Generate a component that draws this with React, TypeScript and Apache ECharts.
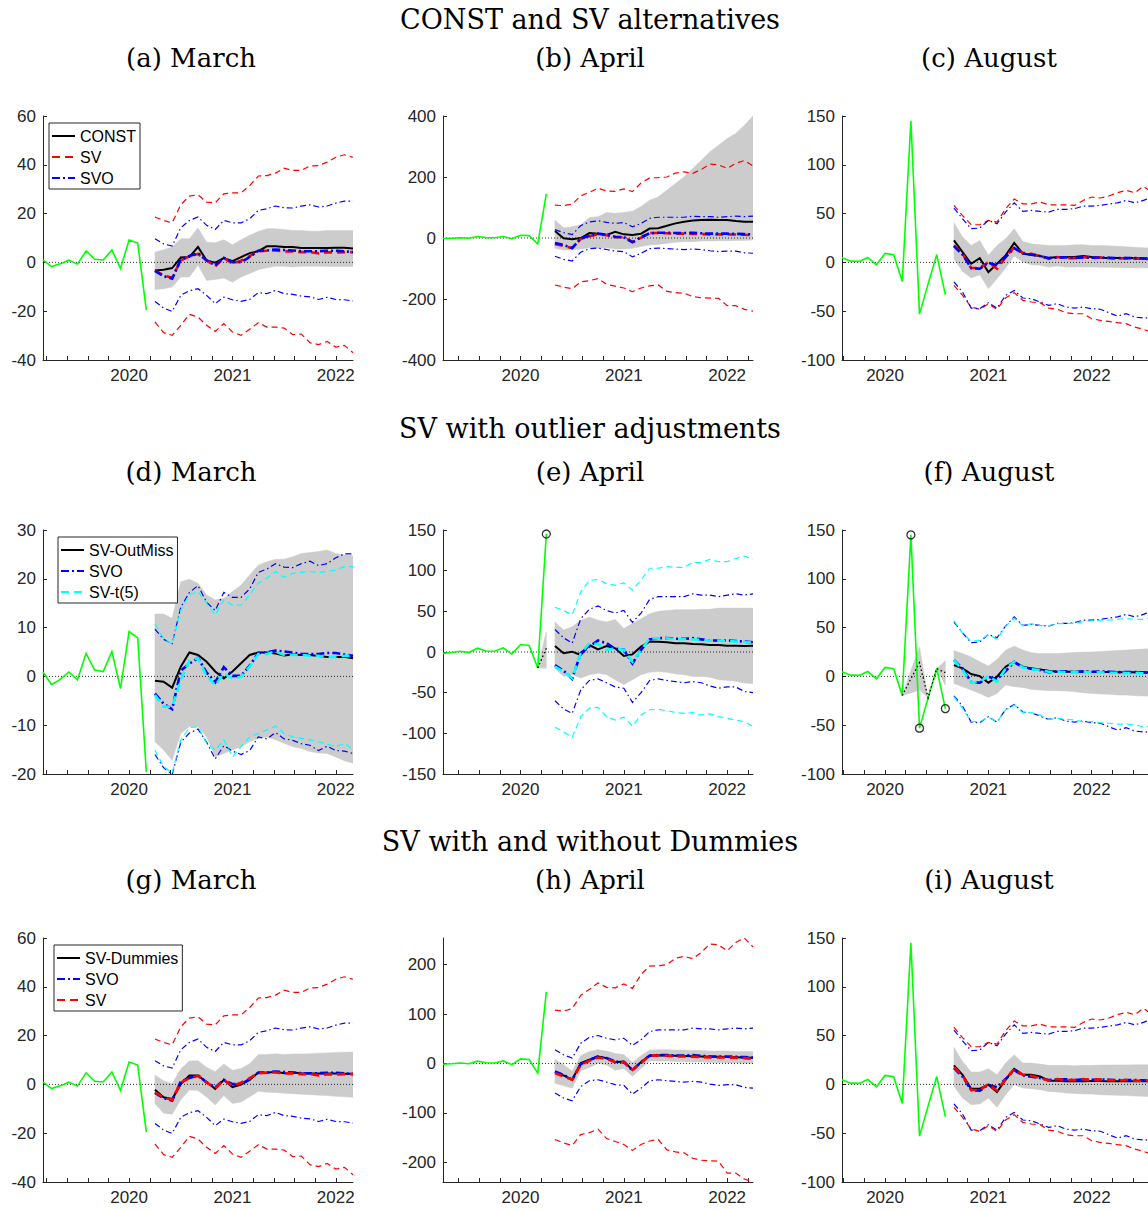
import React, { useEffect, useRef } from "react";
import * as echarts from "echarts";

// ---------------- DATA ----------------
// Observed monthly growth (green), March 2019 .. August 2020
const observed = [0.9, -1.7, -0.6, 0.9, -0.7, 4.7, 1.3, 1.0, 5.1, -2.5, 9.2, 7.9, -19.6, 145, -53, -22, 8, -33];

// tick labels / tick positions
const xLabelYears = [2020, 2021, 2022];
const xMinorTicks = [2019.2, 2019.4, 2019.6, 2019.8, 2020, 2020.2, 2020.4, 2020.6, 2020.8, 2021, 2021.2, 2021.4, 2021.6, 2021.8, 2022, 2022.2, 2022.4, 2022.6];
const yTicksMar = [-40, -20, 0, 20, 40, 60];
const yTicksMarOut = [-20, -10, 0, 10, 20, 30];
const yTicksAprConst = [-400, -200, 0, 200, 400];
const yTicksAprOut = [-150, -100, -50, 0, 50, 100, 150];
const yTicksAprDum = [-200, -100, 0, 100, 200];
const yTicksAug = [-100, -50, 0, 50, 100, 150];

// titles
const sectionTitles = ["CONST and SV alternatives", "SV with outlier adjustments", "SV with and without Dummies"];
const panelTitles = ["(a) March", "(b) April", "(c) August", "(d) March", "(e) April", "(f) August", "(g) March", "(h) April", "(i) August"];

// ---- March vintage forecasts (Apr 2020 .. Mar 2022) ----
const constMarMed = [-3.3, -3.0, -2.3, 2.0, 2.2, 6.3, 0.8, -0.1, 1.8, 0.5, 2.2, 3.8, 4.6, 6.6, 6.6, 6.3, 6.3, 5.9, 5.9, 5.9, 5.9, 6.0, 6.0, 5.7];
const constMarLo = [-11.1, -10.8, -10.1, -6.0, -6.0, -1.2, -7.4, -7.0, -6.4, -8.1, -6.0, -4.6, -3.0, -2.2, -1.6, -1.6, -1.9, -1.6, -1.6, -1.6, -1.7, -1.7, -1.7, -1.7];
const constMarHi = [4.2, 5.2, 6.3, 9.7, 9.7, 14.1, 8.3, 8.1, 9.3, 7.2, 9.3, 11.1, 12.7, 13.8, 13.8, 13.5, 13.1, 13.1, 12.8, 12.8, 13.1, 13.1, 13.1, 13.1];
const svMarMed = [-3.3, -5.3, -6.3, 0.8, 2.5, 3.5, 0.8, -1.6, 1.8, -0.5, 0.7, 2.6, 4.6, 4.8, 4.9, 4.5, 4.5, 4.2, 4.2, 3.7, 4.1, 4.1, 4.2, 4.2];
const svMarLo = [-24.4, -28.8, -29.9, -25.8, -21.3, -22.4, -25.8, -28.3, -25.1, -28.5, -29.9, -27.4, -24.7, -26.5, -26.5, -26.9, -29.6, -29.4, -32.9, -33.7, -32.4, -34.7, -34.0, -37.0];
const svMarHi = [18.6, 17.2, 16.2, 23.6, 27.2, 27.7, 24.7, 24.4, 28.1, 28.5, 28.5, 31.5, 35.4, 35.6, 36.6, 38.6, 37.7, 37.7, 39.5, 39.7, 41.1, 43.1, 44.1, 43.1];
const svoMarMed = [-3.5, -5.6, -6.7, 1.2, 2.6, 3.8, 0.8, -1.2, 1.9, 0.1, 0.1, 2.2, 4.8, 4.9, 5.3, 5.1, 4.9, 4.6, 4.6, 4.6, 4.8, 4.8, 4.5, 4.2];
const svoMarLo = [-16.0, -18.7, -20.1, -13.5, -11.6, -10.8, -13.5, -16.9, -14.2, -15.3, -16.0, -15.2, -12.4, -12.8, -11.5, -12.8, -13.1, -13.8, -14.1, -15.2, -14.3, -15.2, -15.3, -15.8];
const svoMarHi = [9.7, 7.6, 6.7, 14.2, 17.2, 18.6, 15.2, 13.5, 17.2, 16.2, 16.2, 17.9, 21.3, 22.0, 23.1, 22.4, 22.3, 23.1, 23.6, 22.7, 23.1, 24.3, 25.1, 25.1];
const outMarMed = [-0.9, -1.1, -2.3, 2.0, 4.9, 4.4, 3.0, 1.0, -0.4, 1.0, 2.7, 4.4, 4.9, 4.9, 4.7, 4.3, 4.5, 4.4, 4.4, 4.2, 4.0, 4.0, 4.0, 3.7];
const outMarLo = [-13.4, -15.1, -17.2, -11.7, -10.3, -10.3, -12.4, -16.5, -15.8, -15.1, -14.4, -13.4, -12.7, -12.4, -13.0, -13.7, -14.4, -14.8, -15.4, -15.7, -15.8, -16.5, -17.3, -17.8];
const outMarHi = [12.8, 12.8, 11.9, 19.4, 19.9, 19.1, 16.7, 15.7, 16.0, 17.4, 18.7, 20.8, 22.8, 23.5, 24.0, 24.0, 24.5, 25.2, 25.4, 25.6, 25.9, 25.2, 24.9, 24.7];
const tMarMed = [-3.8, -6.2, -6.2, -0.8, 3.3, 3.7, 0.1, -1.8, 0.6, -0.4, -0.1, 2.0, 4.6, 4.6, 5.1, 4.4, 4.4, 4.4, 4.2, 4.2, 4.0, 4.0, 4.2, 4.2];
const tMarLo = [-15.1, -18.5, -19.8, -13.0, -10.5, -10.3, -13.7, -15.1, -13.0, -16.5, -14.4, -12.4, -11.7, -11.0, -10.2, -11.7, -12.4, -12.7, -13.0, -13.4, -13.9, -14.4, -13.7, -15.0];
const tMarHi = [10.7, 7.8, 6.6, 13.6, 16.7, 17.4, 15.0, 12.6, 15.7, 14.6, 14.6, 16.7, 19.1, 20.1, 21.5, 20.3, 21.1, 21.3, 21.5, 21.3, 21.5, 21.8, 22.5, 22.5];
const dumMarMed = [-2.2, -5.3, -6.0, 0.1, 3.6, 3.6, 1.0, -1.8, 1.9, -1.1, -0.1, 1.8, 4.9, 4.8, 5.2, 4.6, 4.9, 4.6, 4.5, 4.5, 4.5, 4.5, 4.4, 4.4];
const dumMarLo = [-7.8, -11.8, -12.2, -6.3, -2.3, -2.5, -5.2, -8.4, -4.6, -7.8, -7.2, -5.1, -2.8, -3.2, -3.3, -3.6, -3.8, -4.0, -4.2, -4.4, -4.6, -4.9, -5.1, -5.3];
const dumMarHi = [3.8, 1.5, 0.3, 6.3, 9.6, 9.7, 7.0, 5.2, 8.4, 5.8, 6.5, 8.5, 12.2, 12.3, 12.6, 12.3, 12.5, 12.5, 12.6, 12.8, 12.9, 13.1, 13.2, 13.3];

// ---- April vintage forecasts (May 2020 .. Apr 2022) ----
const constAprMed = [23, -1, -4, 0, 16, 14, 10, 20, 12, 10, 14, 31, 32, 40, 48, 53.5, 57, 59, 60, 59, 59, 55.7, 53.5, 53.5];
const constAprLo = [-34, -39, -39, -36, -32, -34, -32, -36, -36, -34, -28, -23, -21, -17.5, -14, -12, -12, -10, -10, -9, -9, -8, -8, -6.5];
const constAprHi = [59, 34, 37, 43, 67, 70, 84, 81, 84, 88, 103, 124, 135, 157, 179, 201, 228, 255, 283, 304, 326, 343, 370, 400];
const svAprMed = [-19.6, -26.3, -33, -2.7, 5.4, 12, 9.4, 2.7, 2.7, -12.8, 0.7, 16.2, 16.2, 15.5, 14.2, 14.2, 13.5, 12.8, 12, 12, 12, 11.5, 10.8, 9.4];
const svAprLo = [-154, -161, -166, -144, -140, -133, -152, -158, -164, -176, -164, -157, -154, -175, -179, -181, -192, -196, -197, -198, -222, -222, -234, -240];
const svAprHi = [108, 106, 111, 138, 150, 163, 154, 153, 161, 152, 180, 197, 198, 200, 213, 217, 212, 225, 242, 240, 228, 245, 254, 236];
const svoAprMed = [-16.2, -23, -33, -1.3, 6.7, 14.2, 10.8, 4, 2.7, -14.2, 2.7, 15.5, 17, 17, 16.2, 16.2, 17, 15.5, 14.2, 14.2, 14.2, 13.5, 12.8, 12];
const svoAprLo = [-60, -70, -75.5, -46.5, -35, -33, -37.8, -43, -44.5, -62, -50, -35, -33, -35, -36.4, -37.8, -36.4, -37.8, -41.8, -44.5, -43, -43, -48.5, -50];
const svoAprHi = [27.6, 17.5, 10.8, 41, 52.6, 56.6, 51, 47.9, 51, 36.4, 47.9, 64.7, 68, 68, 68, 68, 71.5, 70, 70, 68, 70, 71.5, 70, 71.5];
const outAprMed = [7.4, -1.6, 0.4, -3.7, 8.6, 3.3, 7.4, 4.5, -4.9, -2.9, 6.6, 12.7, 12.7, 11.9, 10.7, 10.7, 9.8, 9.4, 8.6, 8.6, 7.8, 7.8, 7.4, 7.8];
const outAprLo = [-20, -30, -28, -32, -28, -26, -28, -34, -40, -34, -28, -25, -24, -25, -27, -28, -30, -30, -31, -34, -35, -36, -38, -39];
const outAprHi = [37, 27, 31, 39, 43, 39, 37, 40, 29, 35, 41, 47, 50, 51, 52, 52, 52, 52.5, 52.5, 54, 54, 54, 54, 54];
const tAprMed = [-18, -24, -32, -1.6, 10.7, 9.8, 2.5, 4.5, 2.5, -12, 2.5, 16.8, 16.8, 16.8, 15.6, 16, 15.6, 14.8, 14, 14, 13.5, 13, 12.3, 11.5];
const tAprLo = [-92.6, -98, -105, -79.5, -69, -68, -79.5, -83.6, -80, -91, -77.5, -71, -70.5, -72, -74.6, -75.4, -74.6, -77.5, -76, -79.5, -81.6, -83.6, -85.7, -91.8];
const tAprHi = [55, 51, 45.5, 74, 88, 89, 84, 82, 85, 76, 88.5, 103, 103, 105, 104, 104, 110, 110, 114, 111, 111, 115, 118, 114];
const dumAprMed = [-17.5, -24.3, -33, 0.7, 7.4, 14.2, 10.8, 2.7, 4, -12.8, 2.7, 16.2, 16.5, 16.2, 15.5, 15, 14.8, 14.2, 13.8, 13.5, 13.2, 12.8, 12.2, 11.5];
const dumAprLo = [-40, -45, -50, -15, -8, 0, -3, -14, -10, -26, -10, 5, 5, 5, 4, 4, 3, 3, 2, 2, 1, 1, 0, 0];
const dumAprHi = [8, -2, -16, 16, 24, 28, 25, 20, 18, 2, 16, 27, 28, 28, 27, 27, 26, 26, 25, 25, 25, 24, 24, 24];

// ---- August vintage forecasts (Sep 2020 .. Aug 2022) ----
const constAugMed = [22.5, 10.6, -1.4, 4.4, -10, -1.4, 7.2, 20, 8.9, 7.9, 6.5, 4.4, 5.5, 5.5, 5.5, 6.5, 5.5, 4.8, 4.4, 4.4, 4.4, 4.4, 3.8, 3.8];
const constAugLo = [3.8, -9.2, -16, -12.6, -27, -16.7, -5.8, 6.5, 0.3, -2.4, -3, -4.8, -3.8, -4.8, -4.8, -4.8, -4.8, -5, -5, -5.2, -5.4, -5.5, -5.6, -5.8];
const constAugHi = [40.6, 26, 17.4, 22.5, 7.2, 17.4, 24.2, 34.5, 21.5, 19, 18, 17.4, 17.4, 17.4, 18, 18, 17.4, 17.4, 17, 16.5, 16, 15.5, 15, 14.7];
const svAugMed = [17.4, 8.9, -5.8, -5.8, 0.3, -6.5, 5.5, 15.7, 9.9, 8.9, 6.5, 3.8, 5.5, 4.4, 4.4, 5.5, 4.4, 5.1, 4.4, 3.8, 4.4, 3.8, 3.8, 3.1];
const svAugLo = [-23.6, -33.8, -45.8, -48, -42.3, -48, -36.5, -31, -39, -40.6, -41.3, -46.8, -48, -51.6, -52.6, -52.6, -57.7, -59.4, -60.5, -61.8, -62.8, -66.3, -68.6, -72];
const svAugHi = [58.4, 48, 38.6, 38.6, 43, 41.3, 55, 65, 60, 60, 61.8, 59, 59, 59, 58.4, 63.5, 67, 66, 68, 71.4, 73.8, 71.4, 77.9, 72];
const svoAugMed = [16.7, 7.9, -5.8, -6.5, -0.3, -3, 5.5, 14.7, 9.2, 7.9, 6.5, 4.4, 5.1, 5.1, 4.4, 5.1, 4.8, 5.1, 4.8, 4.4, 4.4, 4.4, 4.1, 3.8];
const svoAugLo = [-20, -30.4, -46.8, -47.5, -41.3, -46.8, -33.8, -28.7, -36.5, -37.2, -40.6, -44, -42.3, -45.8, -46.8, -45.8, -47.5, -48, -51.6, -55, -52.6, -56, -57, -56.4];
const svoAugHi = [55.7, 44.7, 34.5, 35.2, 43, 39.6, 51.6, 61, 52.2, 53.3, 52.2, 51.6, 54.3, 54.3, 55, 57.7, 57.7, 58.4, 59.8, 61, 63.5, 61, 63.5, 67];
const outAugMed = [11.6, 8.2, 2.4, 0.3, -6.5, -0.3, 9.9, 15, 9.9, 8.2, 7.2, 5.8, 4.8, 4.8, 4.8, 4.8, 4.4, 4.4, 4.4, 4.3, 4.2, 4.2, 4.1, 4.1];
const outAugLo = [-7.2, -10.6, -14, -17.4, -21.5, -17.4, -8.9, -10.6, -11.3, -13.3, -14, -14.7, -14.7, -15, -15.7, -16.7, -17.4, -18, -18.4, -19.1, -19.1, -19.8, -20.1, -20.1];
const outAugHi = [26.3, 23.5, 20, 15, 10.6, 17.4, 27, 31, 27, 24.2, 23.5, 23.5, 23.5, 24, 24.5, 25, 25, 25.5, 26, 26.5, 27, 27.5, 28, 28.5];
const tAugMed = [16.7, 6.5, -6.5, -5.5, 0.3, -5.5, 8.2, 15, 9.2, 7.2, 6.5, 4.8, 4.8, 4.4, 4.4, 4.4, 4.1, 4.1, 3.8, 3.8, 3.4, 3.4, 3.1, 3.1];
const tAugLo = [-20.8, -32.8, -46.4, -46.4, -42, -46.4, -34.5, -29.4, -37.2, -37.2, -39.6, -44, -43, -44, -44.7, -46.4, -46.4, -47.4, -48, -48.8, -48.8, -49.8, -51.5, -50.8];
const tAugHi = [57, 44.4, 35.8, 36.9, 42.7, 38.2, 51.2, 59.7, 51.9, 54, 51.9, 51.9, 54, 54, 54.6, 56, 57, 57.7, 57.7, 58.4, 59.4, 58.4, 58.4, 60.4];
const dumAugMed = [19.5, 9.9, -4.4, -4.4, -0.3, -7.8, 4.8, 16, 9.9, 9.9, 8.2, 3.8, 3.8, 3.1, 3.1, 3.1, 3.4, 3.4, 3.1, 3.1, 3.1, 3.1, 3.1, 3.1];
const dumAugLo = [-2, -14, -20.8, -20.1, -14, -23.5, -10.6, -0.3, -3.8, -4.4, -5.5, -7.2, -7.8, -8.9, -9.2, -9.9, -9.9, -10.6, -10.9, -11.2, -11.5, -11.9, -12.2, -12.6];
const dumAugHi = [37.9, 23.5, 12.6, 12.6, 16, 9.9, 21.8, 30.4, 21.8, 21.8, 20.8, 19.5, 19.5, 19.5, 19.1, 19.5, 19.5, 19.8, 19.8, 20, 20, 20.1, 20.1, 20.1];

// ---- Outlier-adjusted in-sample values (from March 2020) ----
const adjAprMed = [-19.6, 4.5];
const adjAprLo = [-19.6, -20];
const adjAprHi = [-19.6, 25];
const adjAugMed = [-19.6, -2.5, 14, -22, 8, 3.8];
const adjAugLo = [-19.6, -17, -14, -22, 8, -9];
const adjAugHi = [-19.6, 6, 30, -22, 8, 16];
const outliersApr = [13]; // index into observed (Apr 2020)
const outliersAug = [13, 14, 17]; // Apr, May, Aug 2020

// ---------------- STYLES / LAYOUT ----------------
const RED = "#ff0000", BLUE = "#0000ff", CYAN = "#00ffff", GREEN = "#00ff00", GRAY = "#cccccc", AXIS = "#262626";
const DASH_MED = [8, 5], DASH_BAND = [6, 4], DD_MED = [8, 3, 2, 3], DD_BAND = [6, 3, 1.5, 3];
const colLeft = [43, 443, 842];
const rowTop = [116, 530, 938];
const plotW = 310, plotH = 244;
const SANS = "'Liberation Sans', Arial, Helvetica, sans-serif";
const SERIF = "'DejaVu Serif', serif";

const ym = (y: number, m: number) => y + (m - 1) / 12;
const obsX = (i: number) => ym(2019, 3) + i / 12;
const monthsFrom = (y: number, m: number, n: number) => Array.from({ length: n }, (_, j) => ym(y, m) + j / 12);

const VINT: any = {
  mar: { xMin: ym(2019, 3), xMax: ym(2022, 3), obs: [0, 13], fc: [2020, 4] },
  apr: { xMin: ym(2019, 4), xMax: ym(2022, 4), obs: [1, 14], fc: [2020, 5] },
  aug: { xMin: ym(2019, 8), xMax: ym(2022, 8), obs: [5, 18], fc: [2020, 9] },
};

const L = (name: string, color: string, med: number[], lo: number[], hi: number[], medType: any, bandType: any) => ({ name, color, med, lo, hi, medType, bandType });

const panels: any[] = [
  { col: 0, row: 0, v: "mar", yMin: -40, yMax: 60, yTicks: yTicksMar, main: { name: "CONST", med: constMarMed, lo: constMarLo, hi: constMarHi },
    others: [L("SV", RED, svMarMed, svMarLo, svMarHi, DASH_MED, DASH_BAND), L("SVO", BLUE, svoMarMed, svoMarLo, svoMarHi, DD_MED, DD_BAND)] },
  { col: 1, row: 0, v: "apr", yMin: -400, yMax: 400, yTicks: yTicksAprConst, main: { name: "CONST", med: constAprMed, lo: constAprLo, hi: constAprHi },
    others: [L("SV", RED, svAprMed, svAprLo, svAprHi, DASH_MED, DASH_BAND), L("SVO", BLUE, svoAprMed, svoAprLo, svoAprHi, DD_MED, DD_BAND)] },
  { col: 2, row: 0, v: "aug", yMin: -100, yMax: 150, yTicks: yTicksAug, main: { name: "CONST", med: constAugMed, lo: constAugLo, hi: constAugHi },
    others: [L("SV", RED, svAugMed, svAugLo, svAugHi, DASH_MED, DASH_BAND), L("SVO", BLUE, svoAugMed, svoAugLo, svoAugHi, DD_MED, DD_BAND)] },
  { col: 0, row: 1, v: "mar", yMin: -20, yMax: 30, yTicks: yTicksMarOut, main: { name: "SV-OutMiss", med: outMarMed, lo: outMarLo, hi: outMarHi },
    others: [L("SVO", BLUE, svoMarMed, svoMarLo, svoMarHi, DD_MED, DD_BAND), L("SV-t(5)", CYAN, tMarMed, tMarLo, tMarHi, DASH_MED, DASH_BAND)] },
  { col: 1, row: 1, v: "apr", yMin: -150, yMax: 150, yTicks: yTicksAprOut, main: { name: "SV-OutMiss", med: outAprMed, lo: outAprLo, hi: outAprHi },
    others: [L("SVO", BLUE, svoAprMed, svoAprLo, svoAprHi, DD_MED, DD_BAND), L("SV-t(5)", CYAN, tAprMed, tAprLo, tAprHi, DASH_MED, DASH_BAND)],
    adj: { start: 12, med: adjAprMed, lo: adjAprLo, hi: adjAprHi }, outliers: outliersApr },
  { col: 2, row: 1, v: "aug", yMin: -100, yMax: 150, yTicks: yTicksAug, main: { name: "SV-OutMiss", med: outAugMed, lo: outAugLo, hi: outAugHi },
    others: [L("SVO", BLUE, svoAugMed, svoAugLo, svoAugHi, DD_MED, DD_BAND), L("SV-t(5)", CYAN, tAugMed, tAugLo, tAugHi, DASH_MED, DASH_BAND)],
    adj: { start: 12, med: adjAugMed, lo: adjAugLo, hi: adjAugHi }, outliers: outliersAug },
  { col: 0, row: 2, v: "mar", yMin: -40, yMax: 60, yTicks: yTicksMar, main: { name: "SV-Dummies", med: dumMarMed, lo: dumMarLo, hi: dumMarHi },
    others: [L("SVO", BLUE, svoMarMed, svoMarLo, svoMarHi, DD_MED, DD_BAND), L("SV", RED, svMarMed, svMarLo, svMarHi, DASH_MED, DASH_BAND)] },
  { col: 1, row: 2, v: "apr", yMin: Math.min(...svAprLo), yMax: Math.max(...svAprHi), yTicks: yTicksAprDum, main: { name: "SV-Dummies", med: dumAprMed, lo: dumAprLo, hi: dumAprHi },
    others: [L("SVO", BLUE, svoAprMed, svoAprLo, svoAprHi, DD_MED, DD_BAND), L("SV", RED, svAprMed, svAprLo, svAprHi, DASH_MED, DASH_BAND)] },
  { col: 2, row: 2, v: "aug", yMin: -100, yMax: 150, yTicks: yTicksAug, main: { name: "SV-Dummies", med: dumAugMed, lo: dumAugLo, hi: dumAugHi },
    others: [L("SVO", BLUE, svoAugMed, svoAugLo, svoAugHi, DD_MED, DD_BAND), L("SV", RED, svAugMed, svAugLo, svAugHi, DASH_MED, DASH_BAND)] },
];

function bandSeries(gi: number, name: string, xs: number[], lo: number[], hi: number[]) {
  return {
    type: "custom", name, xAxisIndex: gi, yAxisIndex: gi, silent: true, clip: true, z: 1,
    data: xs.map((x, i) => [x, lo[i], hi[i]]),
    encode: { x: 0, y: [1, 2] },
    renderItem: (params: any, api: any) => {
      if (params.dataIndex !== 0) return null;
      const pts: number[][] = [];
      for (let i = 0; i < xs.length; i++) pts.push(api.coord([xs[i], hi[i]]));
      for (let i = xs.length - 1; i >= 0; i--) pts.push(api.coord([xs[i], lo[i]]));
      return { type: "polygon", shape: { points: pts }, style: { fill: GRAY, stroke: GRAY, lineWidth: 0.5 } };
    },
  };
}

function lineSeries(gi: number, name: string, xs: number[], ys: number[], color: string, width: number, type: any, z = 3) {
  return {
    type: "line", name, xAxisIndex: gi, yAxisIndex: gi, silent: true, symbol: "none", showSymbol: false, z,
    color, data: xs.map((x, i) => [x, ys[i]]),
    lineStyle: { color, width, type, cap: "butt", join: "miter" },
    itemStyle: { color },
  };
}

function buildOption() {
  const grid: any[] = [], xAxis: any[] = [], yAxis: any[] = [], series: any[] = [];
  panels.forEach((p, gi) => {
    const v = VINT[p.v];
    grid.push({ left: colLeft[p.col], top: rowTop[p.row], width: plotW, height: plotH, containLabel: false });
    xAxis.push({
      type: "value", gridIndex: gi, min: v.xMin, max: v.xMax, splitLine: { show: false },
      axisLine: { show: true, onZero: false, lineStyle: { color: AXIS, width: 1 } },
      axisTick: { show: true, inside: true, length: 4, lineStyle: { color: AXIS }, customValues: xMinorTicks.filter((t) => t >= v.xMin && t <= v.xMax) },
      axisLabel: { show: true, customValues: xLabelYears, formatter: (val: number) => String(Math.round(val)), color: AXIS, fontSize: 17, fontFamily: SANS, margin: 7 },
    });
    yAxis.push({
      type: "value", gridIndex: gi, min: p.yMin, max: p.yMax, splitLine: { show: false },
      axisLine: { show: true, onZero: false, lineStyle: { color: AXIS, width: 1 } },
      axisTick: { show: true, inside: true, length: 4, lineStyle: { color: AXIS }, customValues: p.yTicks },
      axisLabel: { show: true, customValues: p.yTicks, color: AXIS, fontSize: 17, fontFamily: SANS, margin: 7 },
    });
    const fx = monthsFrom(v.fc[0], v.fc[1], 24);
    series.push(bandSeries(gi, p.main.name + " band", fx, p.main.lo, p.main.hi));
    let adjX: number[] = [];
    if (p.adj) {
      adjX = p.adj.med.map((_: number, i: number) => obsX(p.adj.start + i));
      series.push(bandSeries(gi, p.main.name + " adj band", adjX, p.adj.lo, p.adj.hi));
    }
    series.push(lineSeries(gi, "zero", [v.xMin, v.xMax], [0, 0], "#000", 0.8, [1, 2], 2));
    const oIdx = observed.map((_, i) => i).slice(v.obs[0], v.obs[1]);
    series.push(lineSeries(gi, "Observed", oIdx.map(obsX), oIdx.map((i) => observed[i]), GREEN, 1.6, "solid", 3));
    p.others.forEach((l: any) => {
      series.push(lineSeries(gi, l.name + " upper", fx, l.hi, l.color, 1.2, l.bandType, 4));
      series.push(lineSeries(gi, l.name + " lower", fx, l.lo, l.color, 1.2, l.bandType, 4));
    });
    series.push(lineSeries(gi, p.main.name, fx, p.main.med, "#000", 2, "solid", 5));
    p.others.forEach((l: any) => {
      series.push(lineSeries(gi, l.name, fx, l.med, l.color, 2.6, l.medType, 5));
    });
    if (p.adj) {
      series.push(lineSeries(gi, "adjusted", adjX, p.adj.med, "#000", 1.3, [1.5, 2.5], 6));
    }
    if (p.outliers) {
      series.push({
        type: "scatter", name: "outliers", xAxisIndex: gi, yAxisIndex: gi, silent: true, z: 7,
        symbol: "circle", symbolSize: 8,
        data: p.outliers.map((i: number) => [obsX(i), observed[i]]),
        itemStyle: { color: "rgba(0,0,0,0)", borderColor: "#000", borderWidth: 1.3 },
      });
    }
  });

  const legendCommon = {
    orient: "vertical", itemWidth: 23, itemHeight: 12, itemGap: 5, padding: [5, 4, 3, 2],
    borderColor: AXIS, borderWidth: 1, backgroundColor: "#ffffff", selectedMode: false,
    itemStyle: { opacity: 0, color: "rgba(0,0,0,0)", borderWidth: 0 },
    textStyle: { fontSize: 16, fontFamily: SANS, color: "#000" }, z: 10,
  };
  const legend = [
    { ...legendCommon, data: ["CONST", "SV", "SVO"], left: 49, top: 123 },
    { ...legendCommon, data: ["SV-OutMiss", "SVO", "SV-t(5)"], left: 58, top: 537 },
    { ...legendCommon, data: ["SV-Dummies", "SVO", "SV"], left: 54, top: 945 },
  ];

  const sectionY = [19, 428, 841];
  const subY = [58, 472, 880];
  const subX = [191, 590, 989];
  const graphic: any[] = [];
  sectionTitles.forEach((t, r) => {
    graphic.push({ type: "text", x: 590, y: sectionY[r], silent: true,
      style: { text: t, fontSize: 27, fontFamily: SERIF, fill: "#000", align: "center", verticalAlign: "middle", textAlign: "center", textVerticalAlign: "middle" } });
  });
  panelTitles.forEach((t, i) => {
    const r = Math.floor(i / 3), c = i % 3;
    graphic.push({ type: "text", x: subX[c], y: subY[r], silent: true,
      style: { text: t, fontSize: 26, fontFamily: SERIF, fill: "#000", align: "center", verticalAlign: "middle", textAlign: "center", textVerticalAlign: "middle" } });
  });

  return { animation: false, backgroundColor: "#ffffff", grid, xAxis, yAxis, series, legend, graphic };
}

export default function App() {
  const ref = useRef<HTMLDivElement>(null);
  useEffect(() => {
    if (!ref.current) return;
    const chart = echarts.init(ref.current, undefined, { renderer: "svg" });
    chart.setOption(buildOption() as any);
    return () => chart.dispose();
  }, []);
  return (
    <div style={{ position: "absolute", left: 0, top: 0, width: 1148, height: 1210, overflow: "hidden", background: "#fff" }}>
      <div ref={ref} style={{ width: 1160, height: 1210 }} />
    </div>
  );
}
